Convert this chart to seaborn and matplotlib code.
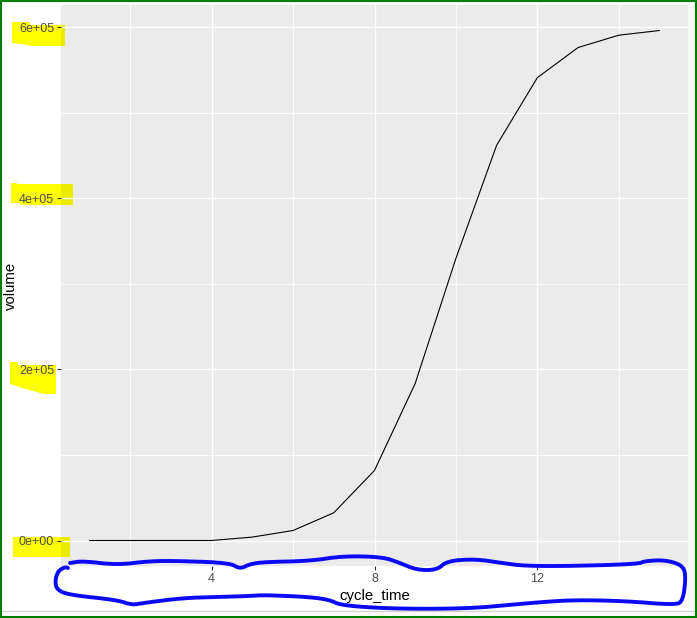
import matplotlib
matplotlib.use("Agg")
import matplotlib.pyplot as plt
from matplotlib.patches import Polygon, Rectangle
from matplotlib.lines import Line2D
from matplotlib.transforms import Affine2D
import seaborn as sns
import pandas as pd

# values
cycle_time = [1, 2, 3, 4, 5, 6, 7, 8, 9, 10, 11, 12, 13, 14, 15]
volume = [0, 0, 0, 0, 4000, 11700, 32400, 81900, 183600, 329800,
          462000, 541000, 576200, 590600, 596100]

x_ticks = [4, 8, 12]
x_minor = [2, 6, 10, 14]
y_ticks = [0, 200000, 400000, 600000]
y_tick_labels = ["0e+00", "2e+05", "4e+05", "6e+05"]
y_minor = [100000, 300000, 500000]

df = pd.DataFrame({"cycle_time": cycle_time, "volume": volume})


def chaikin(pts, n=2):
    # corner cutting so the hand drawn outline looks less jagged
    for _ in range(n):
        new = [pts[0]]
        for (x0, y0), (x1, y1) in zip(pts[:-1], pts[1:]):
            new.append((0.75 * x0 + 0.25 * x1, 0.75 * y0 + 0.25 * y1))
            new.append((0.25 * x0 + 0.75 * x1, 0.25 * y0 + 0.75 * y1))
        new.append(pts[-1])
        pts = new
    return pts


sns.set_theme(style="darkgrid", rc={
    "axes.facecolor": "#EBEBEB",
    "grid.color": "white",
    "axes.edgecolor": "#EBEBEB",
})
plt.rcParams["font.family"] = ["Liberation Sans", "DejaVu Sans"]

W, H = 697, 618
fig = plt.figure(figsize=(W / 100, H / 100), dpi=100)
ax = fig.add_axes([61 / W, 1 - 566 / H, (688 - 61) / W, (566 - 5) / H])

# screen pixel coords (origin top-left) for the hand drawn markings
pix = Affine2D().scale(1 / W, -1 / H).translate(0, 1) + fig.transFigure

sns.lineplot(data=df, x="cycle_time", y="volume", color="black", linewidth=0.8, ax=ax)

ax.set_xticks(x_ticks)
ax.set_xticklabels([str(t) for t in x_ticks])
ax.set_xticks(x_minor, minor=True)
ax.set_yticks(y_ticks)
ax.set_yticklabels(y_tick_labels)
ax.set_yticks(y_minor, minor=True)

ax.grid(which="major", color="white", linewidth=1.0)
ax.grid(which="minor", color="white", linewidth=0.6)
for s in ax.spines.values():
    s.set_visible(False)

ax.tick_params(axis="both", which="major", length=3, width=0.8, color="#333333",
               labelsize=9, labelcolor="#4D4D4D", pad=2, left=True, bottom=True)
ax.tick_params(axis="both", which="minor", length=0)

ax.set_xlabel("cycle_time", fontsize=10.7, color="black", labelpad=3)
ax.set_ylabel("volume", fontsize=10.7, color="black", va="center")
ax.yaxis.set_label_coords((10.5 - 61) / 627, 0.5)

# yellow marker highlights behind the y tick labels
marks = [
    [(12, 22), (30, 22), (30, 25), (65, 25), (65, 46), (32, 46), (22, 44), (12, 43)],
    [(11, 183), (17, 183), (17, 184), (73, 184), (73, 205), (20, 205), (20, 203), (11, 203)],
    [(10, 362), (18, 362), (18, 365), (56, 365), (56, 394), (44, 394), (22, 388), (10, 384)],
    [(13, 537), (70, 537), (70, 557), (13, 557)],
]
for m in marks:
    ax.add_patch(Polygon(m, closed=True, transform=pix, clip_on=False,
                         facecolor="#FFFF00", edgecolor="none", zorder=0.4))
    right = max(p[0] for p in m)
    if right > 61:
        top = min(p[1] for p in m if p[0] == right)
        bot = max(p[1] for p in m if p[0] == right)
        ax.add_patch(Rectangle((61, top), right - 61, bot - top, transform=pix,
                               clip_on=False, facecolor="#EBEB00", edgecolor="none",
                               zorder=0.41))

ax.set_xlim(0.3, 15.7)
ax.set_ylim(-29800, 625900)

# blue freehand outline around the x axis labels
outline = [(70, 563), (83, 561), (117, 565), (150, 561), (183, 561), (230, 563),
           (240, 569), (250, 564), (265, 562), (310, 561), (343, 556), (383, 557),
           (400, 563), (417, 570), (437, 570), (447, 561), (475, 559), (502, 563),
           (525, 566), (575, 566), (638, 564), (645, 561), (665, 560), (682, 565),
           (686, 575), (683, 601), (675, 605), (625, 601), (575, 600), (542, 602),
           (508, 605), (475, 608), (427, 609), (377, 608), (340, 605), (330, 600),
           (310, 597), (265, 595), (250, 596), (217, 597), (183, 598), (143, 603),
           (132, 605), (117, 600), (70, 595), (57, 590), (55, 581), (58, 571),
           (65, 567), (68, 568)]
outline = chaikin(outline)
fig.add_artist(Line2D([p[0] for p in outline], [p[1] for p in outline], transform=pix,
                      color="#0A0AF5", linewidth=2.8, solid_joinstyle="round",
                      solid_capstyle="round", zorder=10))

# window chrome: light line near the bottom and the green border
fig.add_artist(Line2D([2, W - 2], [611, 611], transform=pix, color="#D4D4D4",
                      linewidth=1, zorder=9))
fig.add_artist(Rectangle((0.001, 0.001), 0.997, 0.997, transform=fig.transFigure,
                         fill=False, edgecolor="#008000", linewidth=1.5, zorder=11))

fig.savefig("out.png", dpi=100, facecolor="white")
plt.close(fig)
